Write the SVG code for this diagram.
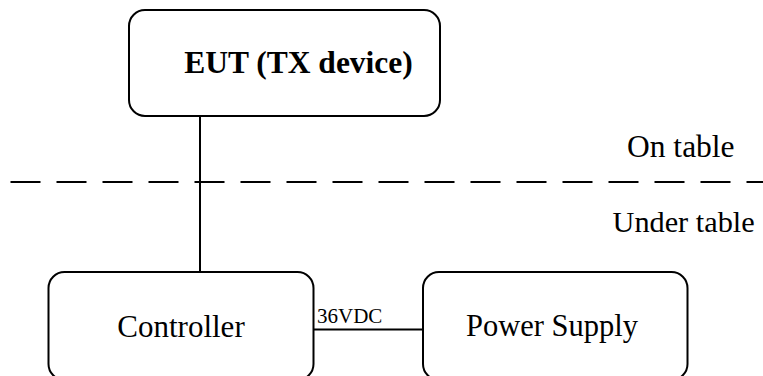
<svg xmlns="http://www.w3.org/2000/svg" width="763" height="376" viewBox="0 0 763 376">
<style>
.box{fill:#fff;stroke:#000;stroke-width:2}
.ln{stroke:#000;stroke-width:2;fill:none}
.t{font-family:"Liberation Serif","Times New Roman",serif;fill:#000}
</style>
<rect width="763" height="376" fill="#fff"/>
<g id="connectors">
<line class="ln" x1="200" y1="116" x2="200" y2="272"/>
<line class="ln" x1="313" y1="329.5" x2="423" y2="329.5"/>
<text class="t" x="317" y="323" font-size="21">36VDC</text>
</g>
<g id="divider">
<line class="ln" x1="10.5" y1="182" x2="763" y2="182" stroke-dasharray="30 16"/>
<text class="t" x="627" y="157" font-size="31.5">On table</text>
<text class="t" x="612.5" y="232" font-size="30.3">Under table</text>
</g>
<g id="eut">
<rect class="box" x="129" y="10" width="311" height="106" rx="16"/>
<text class="t" x="298.5" y="73" font-size="31.5" font-weight="bold" text-anchor="middle">EUT (TX device)</text>
</g>
<g id="controller">
<rect class="box" x="48.5" y="272" width="265" height="108" rx="16"/>
<text class="t" x="181" y="337" font-size="31" text-anchor="middle">Controller</text>
</g>
<g id="power-supply">
<rect class="box" x="423" y="272" width="264.5" height="108" rx="16"/>
<text class="t" x="552" y="336" font-size="30.5" text-anchor="middle">Power Supply</text>
</g>
</svg>
